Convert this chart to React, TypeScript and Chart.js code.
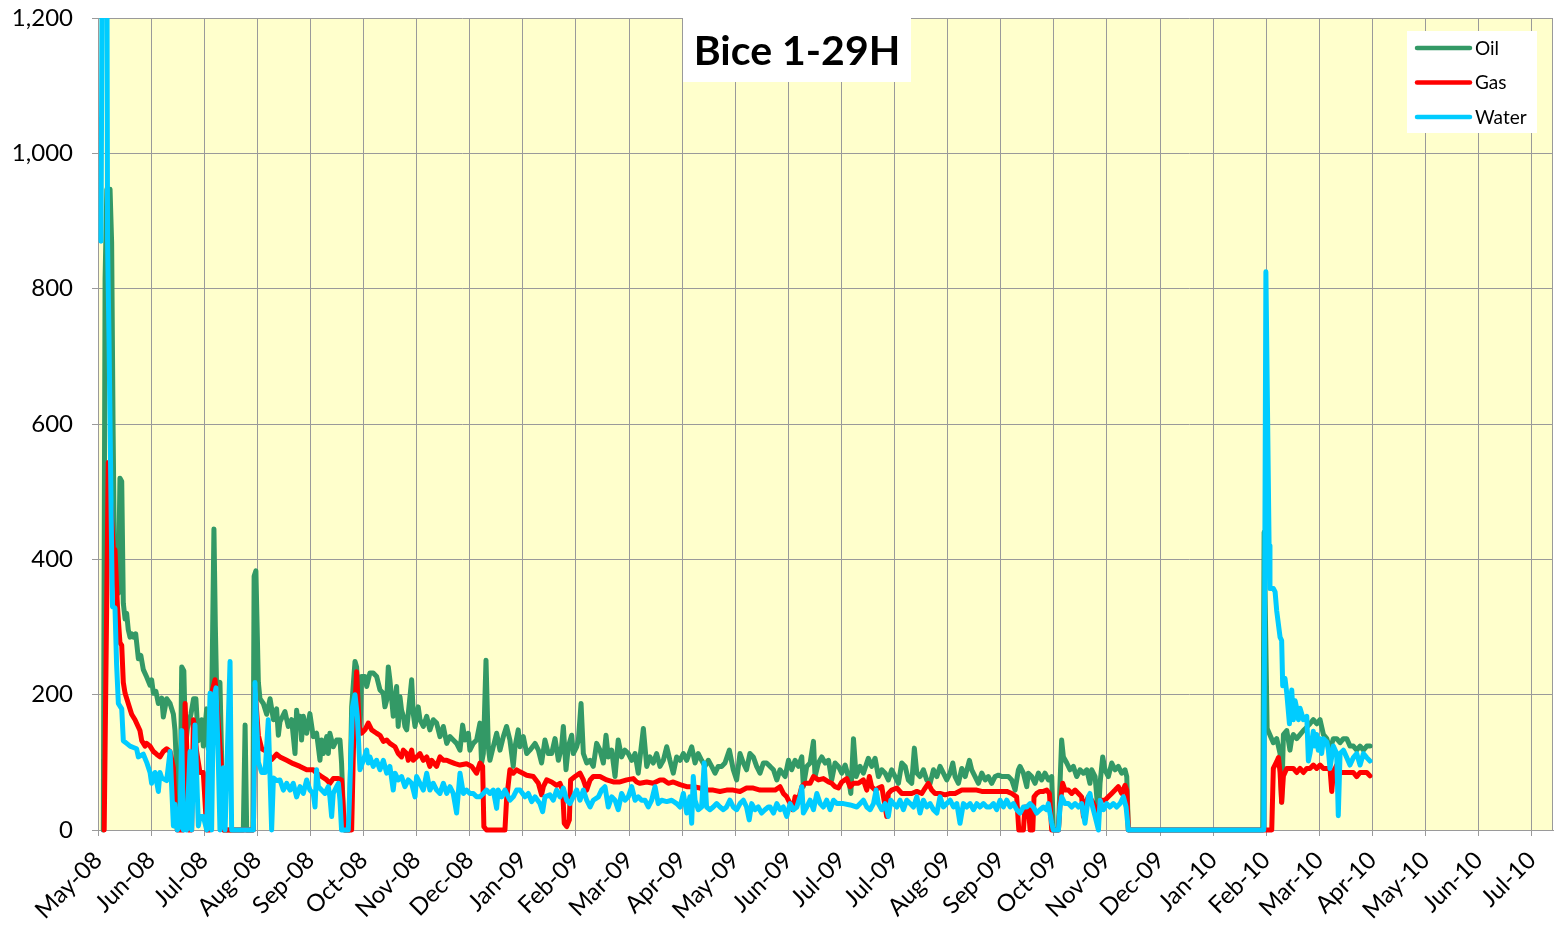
import React, { useEffect, useRef } from "react";
import { Chart, registerables } from "chart.js";

Chart.register(...registerables);

// ---------- data ----------
const TITLE = "Bice 1-29H";
const MONTH_LABELS = [
  "May-08", "Jun-08", "Jul-08", "Aug-08", "Sep-08", "Oct-08", "Nov-08", "Dec-08",
  "Jan-09", "Feb-09", "Mar-09", "Apr-09", "May-09", "Jun-09", "Jul-09", "Jul-09",
  "Aug-09", "Sep-09", "Oct-09", "Nov-09", "Dec-09", "Jan-10", "Feb-10", "Mar-10",
  "Apr-10", "May-10", "Jun-10", "Jul-10",
];
const DAYS_PER_TICK = 30;
const X_MAX_DAYS = 822;
const Y_TICKS = [0, 200, 400, 600, 800, 1000, 1200];

// [day, value]
const OIL: [number, number][] = [
  [3.0,0],[4.0,814],[5.0,947],[6.8,947],[7.7,869],[8.5,600],[9.2,420],[10.5,410],[11.5,350],[12.4,520],[13.4,515],[14.3,335],[15.3,312],[16.2,320],[17.1,296],[18.1,285],[19.0,290],[20.0,285],[21.3,290],[22.8,253],[24.2,258],[25.6,237],[27.5,226],[29.4,214],[30.3,222],[31.3,202],[32.7,205],[34.1,187],[36.0,195],[36.9,167],[38.8,194],[40.7,187],[42.6,171],[43.5,147],[44.8,60],[46.3,20],[47.3,241],[48.5,235],[49.5,124],[50.5,150],[52.5,171],[54.0,194],[55.3,194],[56.7,132],[58.6,163],[59.5,124],[61.4,179],[62.3,120],[64.2,179],[65.5,445],[66.3,300],[67.0,210],[68.9,218],[69.9,100],[70.8,0],[82.1,0],[83.1,155],[84.0,0],[87.5,0],[88.2,375],[89.2,383],[90.6,218],[91.5,194],[93.4,187],[95.3,171],[97.2,194],[99.1,163],[100.9,179],[101.9,140],
  [102.8,160],[105.6,175],[107.5,153],[109.4,163],[111.3,113],[112.2,177],[113.2,153],[114.1,168],[115.0,133],[116.0,168],[117.9,143],[119.7,172],[121.6,138],[123.5,143],[125.4,103],[126.3,133],[127.3,113],[129.2,138],[130.1,113],[131.0,143],[132.9,123],[134.8,133],[136.7,133],[137.6,99],[139.0,0],[142.0,0],[143.3,182],[145.2,249],[146.1,241],[147.1,192],[148.0,143],[148.9,227],[150.8,227],[151.8,212],[153.6,232],[155.5,232],[157.4,227],[159.3,207],[161.2,202],[162.1,182],[163.1,192],[164.0,241],[164.9,222],[166.8,168],[167.8,192],[168.7,212],[169.6,153],[170.6,197],[171.5,177],[172.5,168],[173.4,153],[174.4,148],[175.3,172],[177.2,222],[178.1,172],[179.1,153],[180.0,168],[180.9,182],[181.9,163],[183.8,153],[185.7,168],[187.5,148],[189.4,163],[191.3,158],[193.2,138],[195.1,153],[197.0,128],[198.8,138],[200.7,133],[202.6,128],[204.5,118],[206.0,155],[207.3,133],[209.2,143],[210.1,118],[212.0,128],[213.9,133],[215.8,158],[216.7,99],[217.7,113],[219.2,251],[220.5,123],[221.4,103],[223.3,123],[225.2,143],[227.1,118],[229.0,138],[230.8,153],[232.7,133],[234.6,94],[235.6,123],[237.4,148],
  [238.4,123],[240.3,138],[242.2,113],[244.0,118],[246.9,128],[248.8,118],[250.6,99],[252.5,133],[254.4,113],[256.3,113],[258.2,135],[260.1,103],[261.9,123],[262.9,153],[264.4,89],[265.7,123],[267.6,140],[268.5,113],[270.4,123],[271.4,133],[272.9,187],[274.2,113],[276.1,99],[278.0,103],[279.8,94],[281.7,128],[283.6,118],[285.5,99],[287.0,140],[288.3,108],[290.2,118],[292.1,79],[293.9,133],[295.8,108],[297.7,118],[299.6,113],[301.5,103],[303.4,113],[305.2,84],[308.1,150],[310.0,94],[311.8,108],[313.7,99],[315.6,113],[317.5,94],[319.4,103],[321.3,123],[323.1,103],[325.0,84],[326.9,108],[328.8,103],[330.7,113],[332.6,103],[335.4,123],[337.3,99],[339.1,113],[341.0,103],[342.9,94],[344.8,103],[346.7,94],[348.6,84],[350.4,94],[352.3,94],[354.2,99],[356.7,118],[358.9,89],[360.8,74],[362.7,113],[364.6,99],[366.4,89],[368.3,113],[370.2,108],[372.1,94],[374.0,84],[375.9,99],[377.7,99],
  [379.7,94],[381.6,89],[383.5,74],[385.3,89],[388.2,79],[390.1,103],[391.9,89],[393.8,103],[395.7,94],[397.6,108],[398.5,64],[400.4,94],[402.3,99],[404.2,131],[405.1,79],[407.0,99],[408.9,108],[410.8,99],[412.7,103],[414.5,74],[416.4,99],[418.3,94],[420.2,84],[422.1,96],[423.9,79],[425.3,54],[426.8,135],[428.3,79],[430.5,94],[432.4,84],[435.2,106],[437.1,94],[439.0,106],[440.9,79],[442.8,89],[444.7,84],[446.5,74],[448.4,89],[450.3,79],[452.2,69],[454.1,99],[456.0,94],[457.8,74],[459.7,69],[461.2,121],[462.6,84],[464.4,79],[466.3,89],[468.2,74],[470.1,69],[472.0,89],[473.9,79],[475.7,94],[477.6,84],[479.5,74],[481.4,84],[482.9,99],[484.2,79],[486.1,69],[488.0,91],[489.9,79],[492.3,103],[493.6,89],[495.5,79],[497.4,69],[499.3,84],[501.2,74],[503.0,79],[504.9,69],[506.8,79],[508.7,81],[510.6,79],[512.5,79],[514.3,79],[516.2,74],[518.1,59],
  [520.0,89],[520.9,94],[522.8,84],[524.7,64],[525.6,84],[527.5,79],[529.4,69],[531.3,84],[533.1,74],[535.0,84],[536.9,74],[538.8,79],[539.7,0],[542.6,0],[543.5,69],[544.4,133],[545.4,108],[547.3,99],[549.1,89],[551.0,94],[552.9,79],[554.8,89],[556.7,84],[558.6,89],[560.4,69],[561.4,89],[563.3,79],[565.2,20],[566.1,69],[567.6,108],[568.9,89],[570.8,79],[572.7,99],[574.6,89],[576.4,94],[578.3,84],[580.2,89],[581.2,79],[582.1,0],
  [658.0,0],[658.8,440],[660.5,150],[664.0,129],[665.9,135],[667.8,113],[668.7,41],[669.7,141],[671.6,147],[673.4,118],[674.4,135],[675.3,141],[677.2,135],[679.1,141],[681.0,147],[682.9,152],[684.7,157],[686.6,163],[688.5,157],[690.4,163],[692.3,141],[694.2,135],[696.0,118],[697.9,135],[699.8,135],[701.7,129],[703.6,135],[705.5,135],[707.3,124],[709.2,124],[711.1,118],[713.0,124],[714.9,118],[716.8,124],[718.6,124],
];

const GAS: [number, number][] = [
  [3.5,0],[5.8,543],[7.2,480],[8.7,414],[9.6,414],[11.0,330],[12.4,277],[13.4,273],[14.3,218],[15.3,202],[17.1,187],[19.0,171],[20.9,163],[23.7,147],[24.7,132],[26.6,124],[27.5,128],[29.4,124],[31.3,116],[33.1,112],[35.0,108],[36.9,116],[38.8,120],[40.7,116],[42.6,92],[43.5,38],[44.8,0],[48.2,0],[49.2,187],[50.1,124],[51.0,0],[52.9,0],[53.9,163],[55.7,116],[57.6,85],[59.5,85],[61.4,0],[63.3,0],[64.2,202],[66.1,222],[67.0,194],[68.0,155],[69.9,85],[70.8,0],[87.8,0],[88.7,210],[90.6,140],[92.5,120],[95.3,116],[98.1,104],[100.9,112],
  [102.8,108],[106.6,103],[110.3,98],[114.1,94],[117.9,89],[121.6,89],[123.5,84],[126.3,79],[129.2,74],[131.0,69],[132.9,76],[135.8,76],[137.6,74],[138.6,30],[139.5,0],[143.3,0],[144.6,153],[146.1,234],[147.6,153],[148.9,143],[150.8,148],[152.7,158],[154.6,148],[157.4,143],[159.3,140],[161.2,131],[163.1,133],[164.9,128],[167.8,123],[169.6,113],[171.5,108],[172.5,118],[174.4,113],[175.3,103],[177.2,118],[178.1,103],[180.0,108],[181.9,113],[183.8,103],[185.7,108],[187.5,94],[188.5,103],[191.3,94],[193.2,108],[195.1,103],[197.0,103],[198.8,101],[201.7,98],[204.5,96],[208.2,98],[211.1,94],[213.9,84],[215.8,99],[217.3,94],[218.0,5],[219.5,0],[229.9,0],[230.8,44],[232.7,89],[234.6,84],[236.5,89],
  [238.4,86],[242.2,81],[245.9,79],[248.8,69],[250.6,52],[251.6,64],[253.5,74],[256.3,71],[259.1,66],[261.0,69],[262.5,59],[263.4,10],[264.8,5],[266.3,15],[267.0,74],[269.5,79],[272.3,84],[274.2,74],[276.1,59],[278.0,74],[279.8,79],[283.6,79],[287.4,74],[291.1,71],[294.9,71],[298.7,74],[302.4,76],[304.3,71],[306.2,69],[310.0,71],[313.7,69],[317.5,74],[319.4,74],[322.2,69],[325.0,71],[328.8,67],[332.6,64],[336.3,64],[340.1,62],[343.9,59],[347.6,59],[351.4,57],[355.1,59],[358.9,59],[362.7,57],[366.4,62],[370.2,62],[374.0,59],[377.7,59],
  [379.7,59],[382.5,59],[385.3,64],[387.2,54],[389.1,49],[391.0,39],[392.5,30],[393.8,49],[395.7,44],[397.6,64],[399.5,69],[402.3,69],[404.2,79],[407.0,74],[409.8,76],[412.7,71],[414.5,69],[416.4,64],[418.3,62],[420.2,71],[423.0,76],[424.9,64],[426.8,69],[429.6,69],[432.4,74],[434.3,59],[435.8,79],[437.1,64],[439.0,59],[440.9,62],[442.8,64],[445.6,20],[446.5,54],[448.4,59],[451.3,62],[454.1,54],[456.9,54],[459.7,54],[462.6,57],[465.4,54],[467.3,62],[469.1,69],[471.0,59],[472.9,54],[475.7,54],[478.6,52],[481.4,54],[484.2,54],[488.0,59],[490.8,59],[493.6,59],[496.4,59],[499.3,57],[502.1,57],[504.9,57],[507.7,57],[510.6,57],[513.4,57],[516.2,54],[519.0,49],
  [520.2,0],[522.8,0],[523.7,34],[525.6,34],[526.6,0],[528.1,0],[528.8,49],[530.3,54],[532.2,57],[534.1,57],[536.0,59],[537.5,54],[538.8,0],[542.6,0],[543.5,39],[545.0,69],[546.3,59],[548.2,59],[550.1,54],[552.0,59],[553.9,54],[555.7,49],[556.7,20],[557.6,39],[559.5,49],[561.4,44],[563.3,34],[565.2,25],[566.1,44],[568.9,44],[570.8,49],[572.7,54],[574.6,59],[576.4,64],[578.3,54],[580.2,66],[581.2,59],[582.1,0],
  [663.1,0],[664.0,91],[665.9,101],[666.9,107],[667.8,85],[668.7,41],[669.7,80],[671.6,91],[673.4,91],[675.3,91],[677.2,85],[679.1,91],[681.0,85],[682.9,91],[684.7,91],[686.6,96],[688.5,91],[690.4,96],[692.3,91],[694.2,91],[696.0,91],[697.0,57],[697.9,85],[699.8,96],[701.7,85],[703.6,85],[705.5,85],[707.3,85],[709.2,85],[711.1,79],[713.0,85],[714.9,85],[716.8,85],[718.6,80],
];

const WATER: [number, number][] = [
  [1.7,870],[3.2,1800],[4.6,1800],[5.4,870],[6.2,730],[7.7,410],[8.2,330],[9.6,328],[10.5,245],[11.5,187],[13.4,179],[14.3,132],[16.2,128],[18.1,124],[20.0,122],[21.8,120],[22.8,108],[25.6,112],[27.5,100],[29.4,85],[30.3,69],[32.2,85],[34.1,57],[35.0,85],[36.0,77],[38.8,73],[40.7,116],[41.6,65],[42.6,6],[43.5,38],[44.8,0],[46.3,6],[47.3,147],[48.2,0],[49.2,10],[50.1,0],[52.0,116],[52.9,0],[54.8,155],[56.7,6],[57.6,20],[59.5,20],[61.4,0],[63.3,202],[64.2,0],[65.2,194],[66.7,210],[68.0,100],[68.9,0],[70.8,92],[71.8,0],[74.6,249],[75.5,0],[87.8,0],[88.7,218],[90.6,100],[92.5,85],[94.4,85],[96.2,163],[98.1,0],[99.1,77],[100.9,73],
  [102.8,74],[104.7,59],[106.6,69],[108.5,59],[110.3,69],[112.2,49],[114.1,64],[116.0,54],[117.9,74],[119.7,59],[121.6,54],[122.6,34],[123.5,89],[124.5,64],[126.3,59],[128.2,54],[130.1,64],[131.0,49],[132.0,20],[132.9,54],[134.8,64],[135.8,69],[136.7,44],[137.6,0],[141.4,0],[142.3,64],[143.8,182],[145.2,200],[146.5,168],[148.0,89],[149.9,103],[151.8,118],[152.7,99],[153.6,108],[155.5,94],[157.4,103],[159.3,89],[161.2,103],[163.1,84],[164.9,94],[166.8,59],[167.8,84],[169.6,74],[171.5,79],[173.4,64],[175.3,74],[177.2,69],[179.1,49],[180.0,79],[181.9,69],[183.8,59],[185.7,84],[187.5,59],[189.4,69],[191.3,59],[193.2,54],[195.1,69],[197.0,54],[198.8,64],[200.7,54],[202.6,25],[204.5,84],[206.4,54],[208.2,59],[210.1,54],[212.0,54],[213.9,49],[215.8,49],[217.7,54],[219.5,59],[221.4,54],[223.3,59],[225.2,32],[226.1,59],[228.0,49],[229.9,59],[230.8,54],[232.7,44],[234.6,49],[236.5,59],
  [238.4,59],[241.2,49],[243.1,54],[245.0,42],[246.9,49],[249.7,39],[251.2,27],[252.5,49],[255.3,52],[257.2,44],[259.1,59],[261.0,49],[262.9,62],[264.8,44],[266.6,39],[268.5,49],[270.4,59],[272.3,44],[274.2,59],[276.1,44],[278.0,34],[279.8,44],[282.7,49],[284.5,59],[286.4,64],[288.3,34],[290.2,49],[292.1,44],[293.9,30],[295.8,54],[297.7,44],[299.6,49],[301.5,64],[303.4,44],[305.2,49],[307.1,44],[309.0,44],[310.9,34],[312.8,44],[314.7,64],[316.5,39],[318.4,44],[321.3,42],[324.1,44],[326.9,39],[328.8,34],[330.7,54],[332.6,25],[334.4,49],[335.4,10],[336.3,79],[337.3,44],[339.1,30],[341.0,34],[342.5,99],[343.8,34],[345.7,30],[347.6,34],[349.5,39],[351.4,34],[353.3,30],[355.1,34],[357.0,44],[358.9,34],[360.8,30],[362.7,39],[364.6,44],[366.4,34],[367.9,15],[369.3,39],[371.2,30],[373.0,34],[374.9,25],[376.8,30],[378.7,34],
  [379.7,34],[381.6,25],[383.5,39],[385.3,30],[387.2,34],[389.1,20],[391.0,39],[392.9,30],[394.8,34],[396.6,49],[397.6,64],[398.5,25],[400.4,34],[402.3,44],[404.2,30],[406.1,54],[408.0,39],[409.8,34],[411.7,44],[413.6,30],[415.5,44],[417.4,39],[421.1,39],[424.9,37],[428.7,34],[432.4,44],[434.3,34],[436.2,30],[438.1,39],[439.6,59],[440.9,39],[442.8,30],[444.7,39],[446.5,20],[447.9,44],[449.4,39],[451.3,34],[453.1,44],[455.0,30],[456.9,44],[458.8,39],[460.7,34],[462.6,49],[464.4,25],[466.3,44],[468.2,34],[470.1,39],[472.0,30],[473.9,25],[475.7,49],[477.6,34],[479.5,39],[481.4,44],[483.3,34],[485.2,39],[487.0,10],[488.9,39],[490.8,34],[492.7,39],[494.6,30],[496.5,39],[498.3,34],[500.2,39],[502.1,34],[504.0,34],[505.9,39],[507.7,30],[509.6,44],[511.5,34],[513.4,44],[515.3,34],[517.2,39],[519.0,30],[520.9,25],[522.8,34],[524.7,34],[526.6,39],
  [528.4,34],[530.3,25],[532.2,30],[534.1,34],[536.0,30],[536.9,39],[538.8,10],[539.7,0],[542.6,0],[543.5,34],[544.4,49],[546.3,39],[548.2,39],[550.1,34],[552.0,39],[553.9,34],[555.7,39],[557.6,10],[559.5,49],[560.4,54],[561.4,39],[563.3,20],[565.2,0],[566.1,44],[568.0,30],[569.9,39],[571.7,34],[573.6,39],[575.5,34],[577.4,39],[579.3,49],[580.8,34],[582.1,0],
  [658.6,0],[659.8,825],[661.6,420],[662.1,357],[664.0,357],[665.0,352],[665.9,324],[667.8,285],[668.7,280],[669.3,213],[670.6,224],[671.6,202],[673.1,157],[674.4,207],[675.3,163],[676.3,191],[677.2,180],[678.2,163],[679.1,180],[681.0,163],[682.9,168],[683.8,102],[684.7,113],[686.6,146],[687.6,124],[688.5,141],[689.4,118],[690.4,135],[691.3,113],[692.3,135],[694.2,130],[695.1,118],[696.0,91],[697.9,124],[699.8,113],[700.7,21],[701.7,113],[703.6,118],[705.5,107],[707.3,96],[709.2,107],[711.1,113],[713.0,96],[714.9,113],[716.8,107],[718.6,102],
];

const SERIES = [
  { label: "Oil", color: "#339966", data: OIL, order: 3 },
  { label: "Gas", color: "#FF0000", data: GAS, order: 2 },
  { label: "Water", color: "#00CCFF", data: WATER, order: 1 },
];

const FONT = 'Lato, "Noto Sans", "Liberation Sans", sans-serif';
const GRID = "#9a9a9a";

const bgPlugin = {
  id: "bg",
  beforeDraw(chart: any) {
    const { ctx, chartArea: a } = chart;
    ctx.save();
    ctx.fillStyle = "#ffffff";
    ctx.fillRect(0, 0, chart.width, chart.height);
    ctx.fillStyle = "#FFFFCC";
    ctx.fillRect(a.left, a.top, a.right - a.left, a.bottom - a.top);
    ctx.restore();
  },
  beforeDatasetsDraw(chart: any) {
    const { ctx, chartArea: a } = chart;
    ctx.save();
    ctx.strokeStyle = GRID;
    ctx.lineWidth = 1;
    ctx.beginPath();
    ctx.moveTo(Math.round(a.right) - 0.5, a.top);
    ctx.lineTo(Math.round(a.right) - 0.5, a.bottom);
    ctx.stroke();
    ctx.restore();
  },
};

const overlayPlugin = {
  id: "overlay",
  afterDraw(chart: any) {
    const { ctx } = chart;
    ctx.save();
    // title box
    ctx.fillStyle = "#ffffff";
    ctx.fillRect(683, 18, 228, 64);
    ctx.fillStyle = "#000000";
    ctx.font = `bold 41px ${FONT}`;
    ctx.textAlign = "center";
    ctx.textBaseline = "alphabetic";
    ctx.fillText(TITLE, 797, 65);
    // legend
    ctx.fillStyle = "#ffffff";
    ctx.fillRect(1407, 31, 130, 102);
    SERIES.forEach((s, i) => {
      const y = 48 + i * 34.5;
      ctx.strokeStyle = s.color;
      ctx.lineWidth = 4.5;
      ctx.lineCap = "round";
      ctx.beginPath();
      ctx.moveTo(1417, y);
      ctx.lineTo(1470, y);
      ctx.stroke();
      ctx.fillStyle = "#000000";
      ctx.font = `19px ${FONT}`;
      ctx.textAlign = "left";
      ctx.textBaseline = "alphabetic";
      ctx.fillText(s.label, 1475, y + 6.5);
    });
    ctx.restore();
  },
};

export default function App() {
  const ref = useRef<HTMLCanvasElement>(null);

  useEffect(() => {
    const canvas = ref.current;
    if (!canvas) return;
    const chart = new Chart(canvas, {
      type: "line",
      data: {
        datasets: SERIES.map((s) => ({
          label: s.label,
          data: s.data.map(([x, y]) => ({ x, y })),
          borderColor: s.color,
          backgroundColor: s.color,
          borderWidth: 5,
          pointRadius: 0,
          tension: 0,
          fill: false,
          order: s.order,
          borderJoinStyle: "round",
          borderCapStyle: "round",
          clip: { left: 5, right: 5, top: 0, bottom: 5 },
        })) as any,
      },
      options: {
        responsive: false,
        animation: false,
        events: [],
        layout: { padding: { top: 18, right: 5, left: 0, bottom: 0 } },
        plugins: {
          legend: { display: false },
          tooltip: { enabled: false },
          title: { display: false },
        },
        scales: {
          x: {
            type: "linear",
            min: 0,
            max: X_MAX_DAYS,
            afterBuildTicks: (scale: any) => {
              scale.ticks = MONTH_LABELS.map((_, i) => ({ value: i * DAYS_PER_TICK }));
            },
            afterFit: (scale: any) => {
              scale.height = 103;
              scale.paddingLeft = 0;
              scale.paddingRight = 0;
            },
            ticks: {
              autoSkip: false,
              minRotation: 45,
              maxRotation: 45,
              padding: 10,
              color: "#000000",
              font: { family: FONT, size: 24 },
              callback: (v: any) => MONTH_LABELS[Math.round(Number(v) / DAYS_PER_TICK)] ?? "",
            },
            grid: { color: GRID, lineWidth: 1, tickLength: 6, tickColor: GRID },
            border: { color: GRID, width: 1 },
          },
          y: {
            type: "linear",
            min: 0,
            max: 1200,
            afterBuildTicks: (scale: any) => {
              scale.ticks = Y_TICKS.map((v) => ({ value: v }));
            },
            afterFit: (scale: any) => {
              scale.width = 98;
              scale.paddingTop = 0;
              scale.paddingBottom = 0;
            },
            ticks: {
              padding: 19,
              color: "#000000",
              font: { family: FONT, size: 24 },
              callback: (v: any) => Number(v).toLocaleString("en-US"),
            },
            grid: { color: GRID, lineWidth: 1, tickLength: 6, tickColor: GRID },
            border: { color: GRID, width: 1 },
          },
        },
      },
      plugins: [bgPlugin, overlayPlugin],
    });
    return () => chart.destroy();
  }, []);

  return (
    <div style={{ position: "fixed", left: 0, top: 0, width: 1558, height: 933, background: "#ffffff" }}>
      <canvas ref={ref} width={1558} height={933} style={{ display: "block" }} />
    </div>
  );
}
